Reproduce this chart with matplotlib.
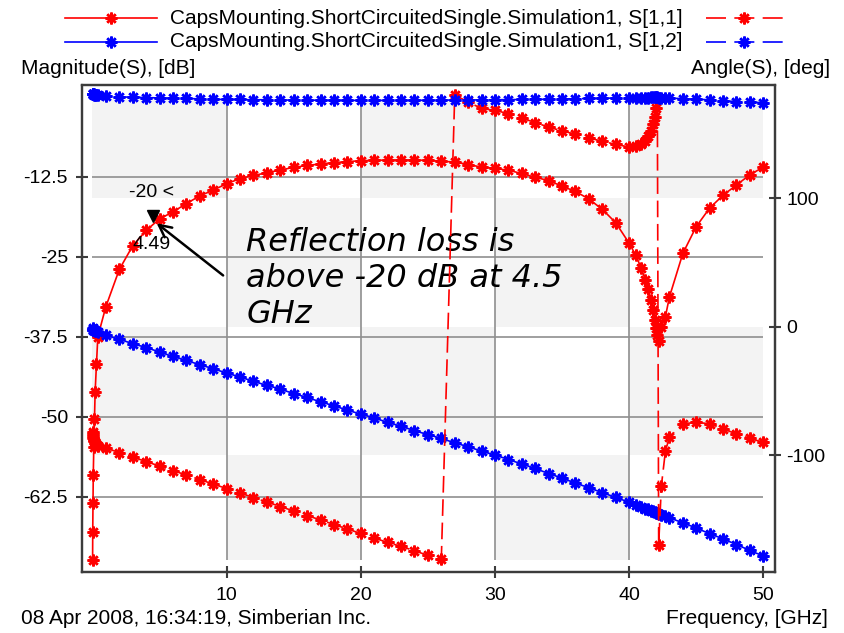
import matplotlib
matplotlib.use("Agg")
import matplotlib.pyplot as plt
import matplotlib.transforms as mtransforms
from matplotlib.lines import Line2D
from matplotlib.patches import Rectangle

RED, BLUE = "#ff0000", "#0000ff"
FRAME, GRID, BAND = "#3c3c3c", "#8f8f8f", "#f3f3f3"
UI_FONT = "Liberation Sans"

# ---------------------------------------------------------------- data ----
freq = [0.01, 0.02, 0.04, 0.06, 0.1, 0.15, 0.2, 0.3, 0.4,
        1, 2, 3, 4, 5, 6, 7, 8, 9, 10,
        11, 12, 13, 14, 15, 16, 17, 18, 19, 20,
        21, 22, 23, 24, 25, 26, 27, 28, 29, 30,
        31, 32, 33, 34, 35, 36, 37, 38, 39, 40,
        40.5, 40.9, 41.2, 41.4, 41.6, 41.8, 41.9, 42.0, 42.1, 42.2, 42.4, 42.7, 43,
        44, 45, 46, 47, 48, 49, 50]

s11_db = [-72.4, -68.0, -63.5, -59.1, -54.7, -50.3, -46.1, -41.7, -37.5,
          -32.8, -27.0, -23.3, -20.9, -19.1, -18.0, -16.7, -15.5, -14.6, -13.6,
          -12.8, -12.3, -11.9, -11.45, -11.05, -10.75, -10.5, -10.3, -10.15, -10.0,
          -9.95, -9.9, -9.9, -9.9, -9.95, -10.1, -10.2, -10.6, -11.0, -11.2,
          -11.5, -12.0, -12.6, -13.1, -14.0, -14.8, -16.0, -17.6, -19.7, -22.9,
          -24.8, -26.8, -28.6, -30.0, -31.8, -33.4, -34.9, -36.2, -37.3, -38.2, -36.0, -34.4, -31.3,
          -24.5, -20.3, -17.4, -15.4, -13.8, -12.2, -11.0]

s11_deg = [-82, -83.5, -85, -86.5, -88, -89, -90, -91, -92.5,
           -94.5, -98, -101.5, -105, -108.5, -112, -115.5, -119, -122.5, -126,
           -129.5, -133, -136.5, -140, -143.5, -147, -150.5, -154, -157.5, -161,
           -164.5, -168, -171, -174.5, -178, -181, 180.5, 175, 170, 168.5,
           166, 162.5, 159, 155.5, 152.5, 150, 147, 144.5, 142, 140,
           140.5, 142.5, 145, 148.5, 152.5, 158, 163, 170, 178.5, -170, -124, -97, -86,
           -75.5, -74.5, -75.5, -79.5, -83.5, -87, -90]

s12_db = [-36.2, -36.3, -36.4, -36.4, -36.5, -36.5, -36.6, -36.6, -36.7,
          -37.3, -37.9, -38.6, -39.2, -39.9, -40.6, -41.2, -41.9, -42.5, -43.2,
          -43.8, -44.5, -45.1, -45.7, -46.4, -47.0, -47.7, -48.3, -49.0, -49.6,
          -50.2, -50.9, -51.5, -52.2, -52.8, -53.4, -54.1, -54.7, -55.4, -56.0,
          -56.7, -57.4, -58.1, -58.9, -59.6, -60.4, -61.1, -61.9, -62.6, -63.4,
          -63.8, -64.1, -64.4, -64.5, -64.7, -64.8, -64.9, -65.0, -65.1, -65.2, -65.3, -65.6, -65.8,
          -66.6, -67.4, -68.3, -69.1, -70.0, -70.9, -71.8]

s12_deg = [181.5, 181.5, 181.2, 181, 181, 180.8, 180.5, 180.5, 180.2,
           179.5, 179, 178.8, 178.5, 178.2, 178, 177.8, 177.5, 177.2, 177,
           177, 176.8, 176.8, 176.6, 176.5, 176.5, 176.4, 176.4, 176.3, 176.3,
           176.3, 176.3, 176.3, 176.4, 176.4, 176.5, 176.6, 176.6, 176.7, 176.8,
           176.9, 177, 177.1, 177.2, 177.4, 177.6, 177.8, 178, 178.1, 178.2,
           178.3, 178.4, 178.5, 178.5, 178.6, 178.6, 178.7, 178.7, 178.6, 178.5, 178.4, 178.3, 178.2,
           177.6, 177.2, 176.8, 176, 175.4, 175, 174.5]

x_ticks = [10, 20, 30, 40, 50]
db_ticks = [-12.5, -25, -37.5, -50, -62.5]
deg_ticks = [100, 0, -100]
band_cols = [0, 10, 20, 30, 40, 50]
band_rows = [177, 100, 0, -100, -181.5]

marker_f, marker_db = 4.49, -20
legend_names = ["CapsMounting.ShortCircuitedSingle.Simulation1, S[1,1]",
                "CapsMounting.ShortCircuitedSingle.Simulation1, S[1,2]"]

STAR = (8, 2, 0)
DASH = (0, (10, 4))
W, H = 844, 633


def fx(px):
    return px / W


def fy(py):
    return 1 - py / H


fig = plt.figure(figsize=(W / 100, H / 100), dpi=100)
ax = fig.add_axes([fx(82), fy(571.5), (775 - 82) / W, (571.5 - 85.5) / H])
ax2 = ax.twinx()
ax.set_xlim(-0.78, 50.87)
ax.set_ylim(-74.2, 1.75)
ax2.set_ylim(-190.6, 187.9)

# checkerboard background, rows follow the angle axis
for j in range(len(band_rows) - 1):
    for i in range(len(band_cols) - 1):
        if (i + j) % 2 == 0:
            ax.add_patch(Rectangle((band_cols[i], band_rows[j + 1]),
                                   band_cols[i + 1] - band_cols[i],
                                   band_rows[j] - band_rows[j + 1],
                                   transform=ax2.transData, color=BAND, lw=0, zorder=0))
ax.vlines(x_ticks[:-1], band_rows[-1], band_rows[0], transform=ax2.transData,
          color=GRID, lw=1.2, zorder=0.5)
ax.hlines(db_ticks, band_cols[0], band_cols[-1], color=GRID, lw=1.2, zorder=0.5)

kw = dict(marker=STAR, ms=8.5, mew=1.8, lw=1.2)
ax.plot(freq, s11_db, color=RED, zorder=3, **kw)
ax.plot(freq, s12_db, color=BLUE, zorder=4, **kw)
ax2.plot(freq, s11_deg, color=RED, ls=DASH, zorder=3, **kw)
ax2.plot(freq, s12_deg, color=BLUE, ls=DASH, zorder=4, **kw)

# axes frame and ticks
for a in (ax, ax2):
    for sp in a.spines.values():
        sp.set_color(FRAME)
        sp.set_linewidth(1.6)
ax.set_xticks(x_ticks)
ax.set_yticks(db_ticks)
ax.set_yticklabels(["-12.5", "-25", "-37.5", "-50", "-62.5"])
ax2.set_yticks(deg_ticks)
ax2.set_yticklabels(["100", "0", "-100"])
ax.tick_params(axis="x", direction="inout", length=8, width=1.5, color=FRAME, pad=7,
               labelsize=14)
ax.tick_params(axis="y", direction="inout", length=8, width=1.5, color=FRAME, pad=6,
               labelsize=14)
ax2.tick_params(axis="y", direction="inout", length=8, width=1.5, color=FRAME, pad=4,
                labelsize=14)
for lab in ax.get_xticklabels() + ax.get_yticklabels() + ax2.get_yticklabels():
    lab.set_fontfamily(UI_FONT)

# -20 dB marker
up = mtransforms.offset_copy(ax.transData, fig=fig, x=0, y=9, units="dots")
ax.plot([marker_f], [marker_db], marker="v", ms=9, color="black", transform=up, zorder=6)
ax.annotate("-20 <", (marker_f, marker_db), xytext=(-1, 32), textcoords="offset pixels",
            ha="center", va="center", fontsize=14, family=UI_FONT, zorder=6)
ax.annotate(f"{marker_f:.2f}", (marker_f, marker_db), xytext=(-1, -20),
            textcoords="offset pixels", ha="center", va="center", fontsize=14,
            family=UI_FONT, zorder=6)
ax.annotate("", xy=(4.62, -19.5), xytext=(9.9, -28.2),
            arrowprops=dict(arrowstyle="->", color="black", lw=1.8, mutation_scale=22),
            zorder=6)
ax.text(0.237, 0.603, "Reflection loss is\nabove -20 dB at 4.5\nGHz",
        transform=ax.transAxes, ha="left", va="center", fontsize=23,
        style="italic", family="DejaVu Sans", linespacing=1.2, zorder=6)

# legend drawn by hand across the top
for row, (name, col) in enumerate(zip(legend_names, [RED, BLUE])):
    y = fy(18.3 + row * 23.4)
    fig.add_artist(Line2D([fx(65), fx(157)], [y, y], color=col, lw=1.2))
    fig.add_artist(Line2D([fx(111)], [y], color=col, marker=STAR, ms=8.5, mew=1.8))
    fig.text(fx(170), y, name, ha="left", va="center", fontsize=15, family=UI_FONT)
    fig.add_artist(Line2D([fx(706), fx(785)], [y, y], color=col, lw=1.2, ls=(0, (12, 5))))
    fig.add_artist(Line2D([fx(744)], [y], color=col, marker=STAR, ms=8.5, mew=1.8))

fig.text(fx(21), fy(68), "Magnitude(S), [dB]", ha="left", va="center",
         fontsize=15, family=UI_FONT)
fig.text(fx(830), fy(68), "Angle(S), [deg]", ha="right", va="center",
         fontsize=15, family=UI_FONT)
fig.text(fx(21), fy(618), "08 Apr 2008, 16:34:19, Simberian Inc.", ha="left",
         va="center", fontsize=15, family=UI_FONT)
fig.text(fx(828), fy(618), "Frequency, [GHz]", ha="right", va="center",
         fontsize=15, family=UI_FONT)

fig.savefig("out.png", dpi=100)
